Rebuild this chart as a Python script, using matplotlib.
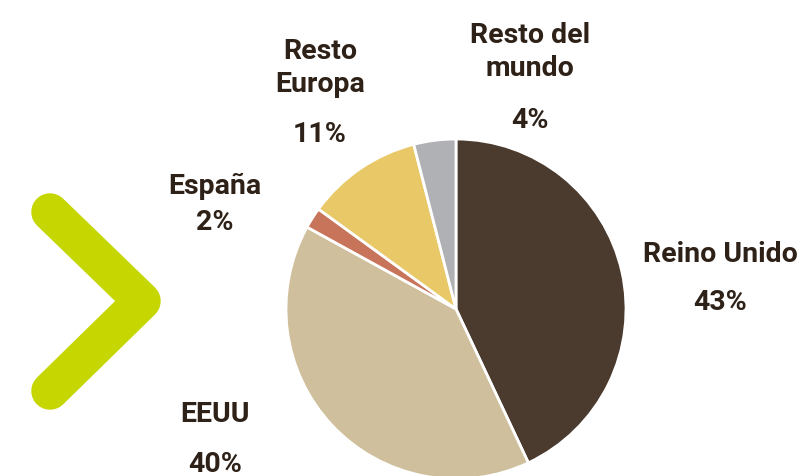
import matplotlib
matplotlib.use("Agg")
import matplotlib.pyplot as plt
from matplotlib.lines import Line2D

# share by market, clockwise from the top
labels = ["Reino Unido", "EEUU", "España", "Resto\nEuropa", "Resto del\nmundo"]
values = [43, 40, 2, 11, 4]
colors = ["#4b3a2e", "#d0bf9c", "#c7745a", "#e8c867", "#b0b1b4"]

W, H = 803, 477
fig = plt.figure(figsize=(W / 100, H / 100), dpi=100)
ax = fig.add_axes([0, 0, 1, 1])

ax.pie(values, colors=colors, startangle=90, counterclock=False,
       center=(456, H - 310), radius=170,
       wedgeprops=dict(edgecolor="white", linewidth=2))

ax.set_xlim(0, W)
ax.set_ylim(0, H)
ax.set_aspect("equal")
ax.axis("off")

# green chevron on the left
chev = Line2D([50, 142, 50], [H - 213, H - 302, H - 392], color="#c5d600",
              linewidth=27, solid_capstyle="round", solid_joinstyle="round")
ax.add_line(chev)

txt = dict(color="#2e2118", fontsize=20.5, fontweight="bold", family="Roboto",
           ha="center", va="center", linespacing=1.3)
# label positions in pixels (x, y from top) for name and percentage
name_pos = [(720, 255), (215, 415), (215, 186), (320, 68), (530, 52)]
pct_pos = [(720, 303), (215, 465), (215, 223), (320, 135), (530, 120)]

for lab, v, (nx, ny), (px, py) in zip(labels, values, name_pos, pct_pos):
    ax.text(nx, H - ny, lab, **txt)
    ax.text(px, H - py, f"{v}%", **txt)

fig.savefig("out.png", dpi=100)
